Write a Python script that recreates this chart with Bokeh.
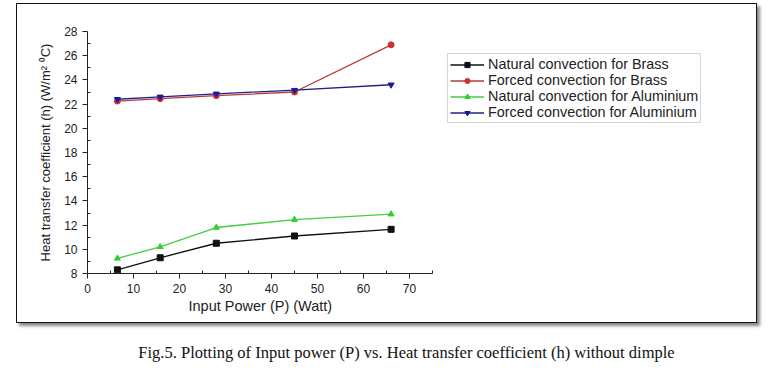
from bokeh.plotting import figure
from bokeh.models import Legend, LegendItem, Range1d, Div, FixedTicker, Title
from bokeh.layouts import column
from bokeh.embed import file_html
from bokeh.resources import INLINE

power = [6.5, 15.8, 28.0, 45.0, 66.0]
nat_brass = [8.3, 9.3, 10.5, 11.1, 11.65]
forced_brass = [22.25, 22.45, 22.7, 23.0, 26.9]
nat_al = [9.25, 10.2, 11.8, 12.45, 12.9]
forced_al = [22.4, 22.6, 22.85, 23.15, 23.6]

labels = ["Natural convection for Brass", "Forced convection for Brass",
          "Natural convection for Aluminium", "Forced convection for Aluminium"]
x_ticks = [0, 10, 20, 30, 40, 50, 60, 70]
x_minor = [5, 15, 25, 35, 45, 55, 65, 75]
y_ticks = [8, 10, 12, 14, 16, 18, 20, 22, 24, 26, 28]
y_minor = [9, 11, 13, 15, 17, 19, 21, 23, 25, 27]

FONT = "Liberation Sans"

W, H = 739, 318
LEFT, RIGHT, TOP, BOTTOM = 70, 20, 27, 49
frame_w = W - LEFT - RIGHT
x_end = 75 * frame_w / 345.0  # axis itself spans 0..75 over 345 px

p = figure(width=W, height=H, output_backend="svg", toolbar_location=None,
           x_range=Range1d(0, x_end), y_range=Range1d(8, 28),
           min_border_left=LEFT, min_border_right=RIGHT, min_border_top=TOP, min_border_bottom=BOTTOM)
p.outline_line_color = None
p.xgrid.visible = False
p.ygrid.visible = False
p.background_fill_color = "white"
p.border_fill_color = "white"

for ax in (p.xaxis[0], p.yaxis[0]):
    ax.axis_line_color = "#222222"
    ax.major_tick_line_color = "#222222"
    ax.minor_tick_line_color = "#222222"
    ax.major_tick_out = 5
    ax.major_tick_in = 0
    ax.minor_tick_out = 0
    ax.minor_tick_in = 3
    ax.major_label_text_font = FONT
    ax.major_label_text_font_size = "12px"
    ax.major_label_text_color = "#222222"
    ax.axis_label_text_font = FONT
    ax.axis_label_text_font_style = "normal"
    ax.axis_label_text_color = "#222222"

p.xaxis[0].ticker = FixedTicker(ticks=x_ticks, minor_ticks=x_minor)
p.yaxis[0].ticker = FixedTicker(ticks=y_ticks, minor_ticks=y_minor)
p.xaxis[0].bounds = (0, 75)
p.yaxis.axis_label = "Heat transfer coefficient (h) (W/m\u00b2 \u2070C)"
p.yaxis.axis_label_text_font_size = "13px"
p.yaxis.axis_label_standoff = 8

xlabel = Title(text="Input Power (P) (Watt)", align="left", offset=101, standoff=0,
               text_font=FONT, text_font_size="14.5px", text_font_style="normal",
               text_color="#222222")
p.add_layout(xlabel, "below")

series = [
    (nat_brass, "#111111", "#111111", "square"),
    (forced_brass, "#b83a3a", "#d03030", "circle"),
    (nat_al, "#44cc44", "#33cc33", "triangle"),
    (forced_al, "#20208a", "#1a1aa0", "inverted_triangle"),
]
items = []
for (vals, lc, mc, mk), lab in zip(series, labels):
    r1 = p.line(power, vals, line_color=lc, line_width=1.3)
    r2 = p.scatter(power, vals, marker=mk, size=6, fill_color=mc, line_color=mc)
    items.append(LegendItem(label=lab, renderers=[r1, r2]))

legend = Legend(items=items, location=(360, 150))
legend.label_text_font = FONT
legend.label_text_font_size = "14.4px"
legend.label_text_color = "#222222"
legend.glyph_width = 34
legend.glyph_height = 13
legend.label_height = 13
legend.spacing = 0
legend.padding = 2
legend.margin = 0
legend.label_standoff = 4
legend.border_line_color = "#aaaaaa"
legend.background_fill_alpha = 1.0
p.add_layout(legend, "center")

box = column(p, margin=(3, 0, 0, 16),
             styles={"border": "1px solid #111111", "box-shadow": "3px 3px 3px #888888"})
caption = Div(text="Fig.5. Plotting of Input power (P) vs. Heat transfer coefficient (h) without dimple",
              width=777, height=30, margin=(18, 0, 0, 0),
              styles={"font-family": "Liberation Serif", "font-size": "16.5px",
                      "text-align": "center", "color": "#111111"})
caption.styles["padding-left"] = "36px"
layout = column(box, caption)

open("out.html", "w").write(file_html(layout, INLINE))
